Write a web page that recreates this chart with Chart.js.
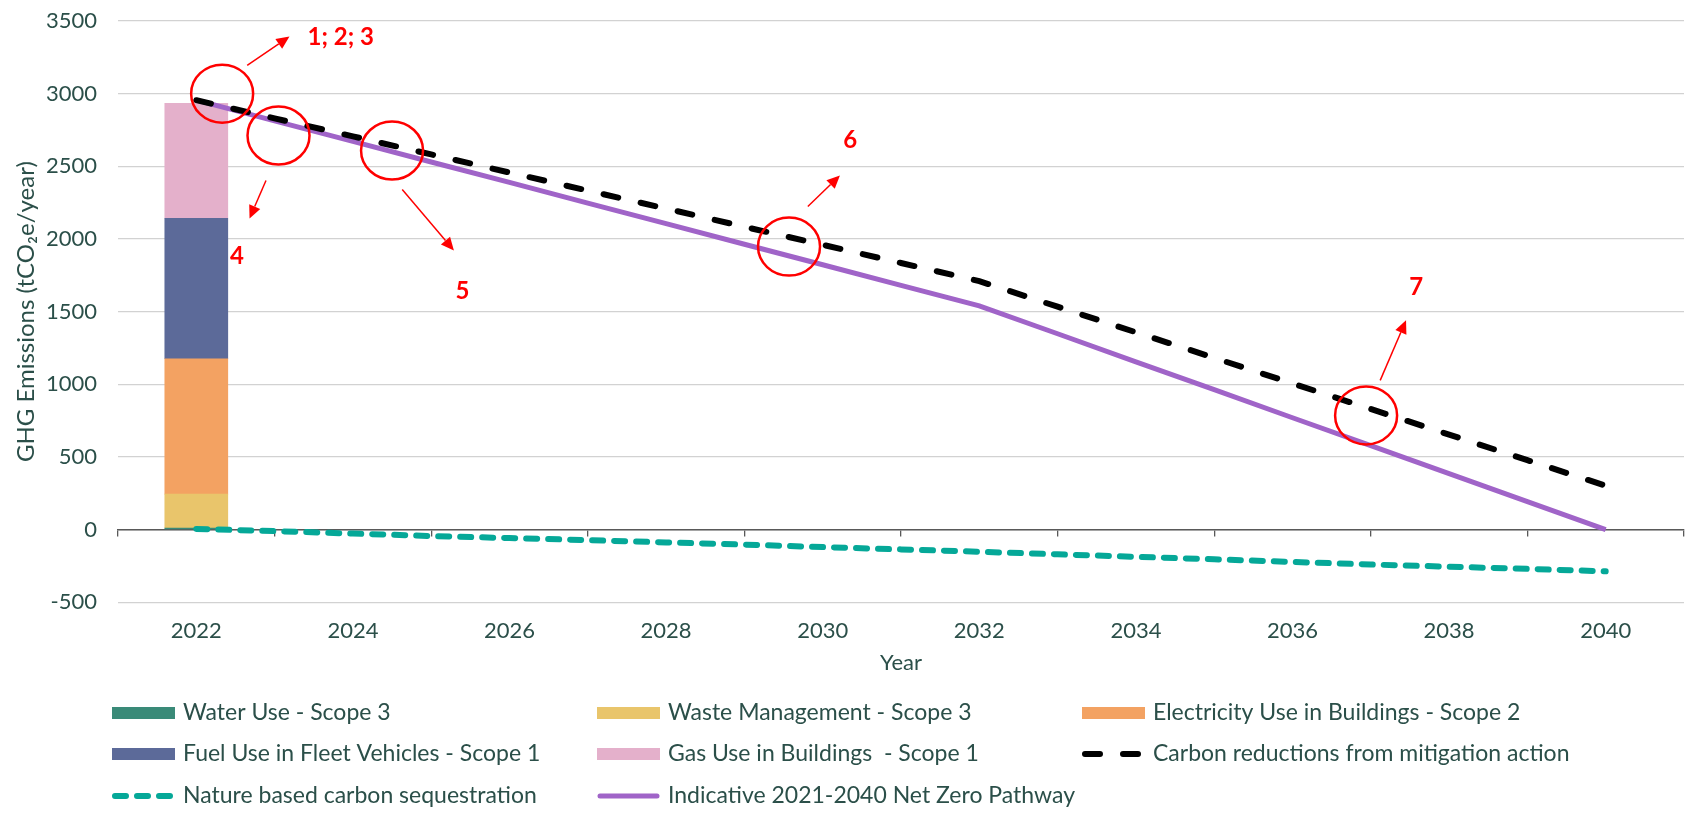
<!DOCTYPE html>
<html>
<head>
<meta charset="utf-8">
<script src="https://cdn.jsdelivr.net/npm/chart.js@4.4.0/dist/chart.umd.min.js"></script>
<style>
  html, body { margin: 0; padding: 0; background: #fff; }
</style>
</head>
<body>
<canvas id="myChart" width="1688" height="814"></canvas>
<script>
var years = [2022, 2023, 2024, 2025, 2026, 2027, 2028, 2029, 2030, 2031, 2032, 2033, 2034, 2035, 2036, 2037, 2038, 2039, 2040];

// 2022 baseline bar (stacked)
var waterUse = [11];
var wasteManagement = [233];
var electricityBuildings = [932];
var fuelFleet = [967];
var gasBuildings = [791];

var mitigation = [2955, 2830, 2706, 2582, 2457, 2333, 2209, 2084, 1960, 1835, 1710, 1534, 1358, 1182, 1006, 830, 654, 478, 302];
var netZeroPath = [2955, 2813, 2672, 2530, 2389, 2247, 2106, 1964, 1823, 1681, 1540, 1348, 1155, 963, 770, 578, 385, 193, 0];
var sequestration = [5, -10, -27, -44, -58, -72, -88, -103, -120, -136, -152, -170, -187, -204, -222, -240, -255, -270, -287];

var yearLabels = [2022, 2024, 2026, 2028, 2030, 2032, 2034, 2036, 2038, 2040];
var tickMarks = [2021, 2023, 2025, 2027, 2029, 2031, 2033, 2035, 2037, 2039, 2041];

// red notes on the picture, in year / tCO2e units
var noteCircles = [[2022.33, 3000], [2023.05, 2712], [2024.5, 2609], [2029.57, 1948], [2036.94, 786]];
var noteArrows = [[2022.65, 3194, 2023.19, 3393], [2022.89, 2402, 2022.68, 2141], [2024.63, 2340, 2025.29, 1921], [2029.81, 2224, 2030.22, 2437], [2037.12, 1027, 2037.45, 1440]];
var noteTexts = [['1; 2; 3', 2023.42, 3385, 'left'], ['4', 2022.52, 1880, 'center'], ['5', 2025.4, 1639, 'center'], ['6', 2030.35, 2677, 'center'], ['7', 2037.58, 1666, 'center']];

var legendOrder = [3, 4, 5, 6, 7, 0, 2, 1];
var legendColX = [112, 597, 1082];
var legendRowY = [713, 754, 796];

var textColor = '#2b4f49';
Chart.defaults.font.family = "Lato, 'Noto Sans', sans-serif";

function pts(vals) {
    return vals.map(function (v, i) { return { x: years[i], y: v }; });
}

// keep axis boxes at fixed sizes so the plot area sits where the original does
function fixX(h) {
    return function (scale) { scale.height = h; scale.paddingLeft = 0; scale.paddingRight = 0; };
}
function fixY(w) {
    return function (scale) { scale.width = w; scale.paddingTop = 0; scale.paddingBottom = 0; };
}

var redNotes = {
    id: 'redNotes',
    afterDatasetsDraw: function (chart) {
        var c = chart.ctx, xs = chart.scales.x, ys = chart.scales.y;
        c.save();
        c.strokeStyle = '#ff0000';
        c.fillStyle = '#ff0000';
        c.lineWidth = 2.5;
        noteCircles.forEach(function (p) {
            c.beginPath();
            c.ellipse(xs.getPixelForValue(p[0]), ys.getPixelForValue(p[1]), 31, 29, 0, 0, Math.PI * 2);
            c.stroke();
        });
        c.lineWidth = 1.5;
        noteArrows.forEach(function (a) {
            var x1 = xs.getPixelForValue(a[0]), y1 = ys.getPixelForValue(a[1]);
            var x2 = xs.getPixelForValue(a[2]), y2 = ys.getPixelForValue(a[3]);
            var ang = Math.atan2(y2 - y1, x2 - x1);
            var bx = x2 - 13 * Math.cos(ang), by = y2 - 13 * Math.sin(ang);
            c.beginPath(); c.moveTo(x1, y1); c.lineTo(bx, by); c.stroke();
            c.beginPath();
            c.moveTo(x2, y2);
            c.lineTo(bx + 6 * Math.sin(ang), by - 6 * Math.cos(ang));
            c.lineTo(bx - 6 * Math.sin(ang), by + 6 * Math.cos(ang));
            c.closePath(); c.fill();
        });
        c.font = "bold 24px Lato, 'Noto Sans'";
        c.textBaseline = 'middle';
        noteTexts.forEach(function (t) {
            c.textAlign = t[3];
            c.fillText(t[0], xs.getPixelForValue(t[1]), ys.getPixelForValue(t[2]));
        });
        c.restore();
    }
};

var gridLegend = {
    id: 'gridLegend',
    afterDraw: function (chart) {
        var c = chart.ctx;
        var sets = chart.data.datasets;
        legendOrder.forEach(function (idx, i) {
            var ds = sets[idx];
            var x = legendColX[i % 3];
            var y = legendRowY[Math.floor(i / 3)];
            c.save();
            if (ds.type === 'line') {
                c.strokeStyle = ds.borderColor;
                c.lineWidth = ds.borderWidth;
                c.lineCap = 'round';
                c.setLineDash(ds.borderDash || []);
                c.beginPath(); c.moveTo(x + 3, y); c.lineTo(x + 60, y); c.stroke();
                c.setLineDash([]);
            } else {
                c.fillStyle = ds.backgroundColor;
                c.fillRect(x, y - 6, 63, 12);
            }
            c.fillStyle = textColor;
            c.font = "23px Lato, 'Noto Sans'";
            c.textAlign = 'left';
            c.textBaseline = 'middle';
            c.fillText(ds.label, x + 71, y);
            c.restore();
        });
    }
};

var ctx = document.getElementById('myChart').getContext('2d');
var chart = new Chart(ctx, {
    type: 'bar',
    data: {
        datasets: [
            { type: 'line', label: 'Carbon reductions from mitigation action', data: pts(mitigation), stack: 'l1',
              borderColor: '#000000', borderWidth: 6, borderDash: [15, 23], borderCapStyle: 'round', pointRadius: 0, fill: false },
            { type: 'line', label: 'Indicative 2021-2040 Net Zero Pathway', data: pts(netZeroPath), stack: 'l2',
              borderColor: '#a064c8', borderWidth: 5, pointRadius: 0, fill: false },
            { type: 'line', label: 'Nature based carbon sequestration', data: pts(sequestration), stack: 'l3',
              borderColor: '#05a898', borderWidth: 6, borderDash: [11, 11], borderCapStyle: 'round', pointRadius: 0, fill: false },
            { type: 'bar', label: 'Water Use - Scope 3', data: [{ x: years[0], y: waterUse[0] }], backgroundColor: '#3a8a78', barThickness: 63 },
            { type: 'bar', label: 'Waste Management - Scope 3', data: [{ x: years[0], y: wasteManagement[0] }], backgroundColor: '#e9c56b', barThickness: 63 },
            { type: 'bar', label: 'Electricity Use in Buildings - Scope 2', data: [{ x: years[0], y: electricityBuildings[0] }], backgroundColor: '#f3a262', barThickness: 63 },
            { type: 'bar', label: 'Fuel Use in Fleet Vehicles - Scope 1', data: [{ x: years[0], y: fuelFleet[0] }], backgroundColor: '#5c6a99', barThickness: 63 },
            { type: 'bar', label: 'Gas Use in Buildings  - Scope 1', data: [{ x: years[0], y: gasBuildings[0] }], backgroundColor: '#e4b0cb', barThickness: 63 }
        ]
    },
    options: {
        responsive: false,
        animation: false,
        layout: { padding: { left: 0, right: 4, top: 21, bottom: 138 } },
        plugins: { legend: { display: false }, tooltip: { enabled: false } },
        scales: {
            x: {
                type: 'linear', min: 2021, max: 2041, stacked: true, offset: false,
                afterBuildTicks: function (axis) { axis.ticks = yearLabels.map(function (v) { return { value: v }; }); },
                afterFit: fixX(73.7),
                ticks: { callback: function (v) { return String(v); }, color: textColor, font: { size: 22 }, padding: 15.5, maxRotation: 0, autoSkip: false },
                grid: { display: false, drawTicks: false, offset: false },
                border: { display: false },
                title: { display: true, text: 'Year', color: textColor, font: { size: 22 }, padding: { top: 0, bottom: 0 } }
            },
            xZero: {
                type: 'linear', min: 2021, max: 2041, offset: false, position: { y: 0 },
                afterBuildTicks: function (axis) { axis.ticks = tickMarks.map(function (v) { return { value: v }; }); },
                afterFit: fixX(0),
                ticks: { display: false },
                grid: { drawOnChartArea: false, drawTicks: true, tickLength: 6, offset: false, color: '#595959', lineWidth: 1.3 },
                border: { color: '#595959', width: 1.5 }
            },
            y: {
                min: -500, max: 3500, stacked: true,
                afterFit: fixY(118),
                ticks: { stepSize: 500, padding: 21, color: textColor, font: { size: 22 }, callback: function (v) { return String(v); } },
                grid: { color: '#d2d2d2', lineWidth: 1.3, drawTicks: false },
                border: { display: false },
                title: { display: true, text: 'GHG Emissions (tCO\u2082e/year)', color: textColor, font: { size: 24 }, padding: { top: 12, bottom: 0 } }
            }
        }
    },
    plugins: [redNotes, gridLegend]
});
</script>
</body>
</html>
